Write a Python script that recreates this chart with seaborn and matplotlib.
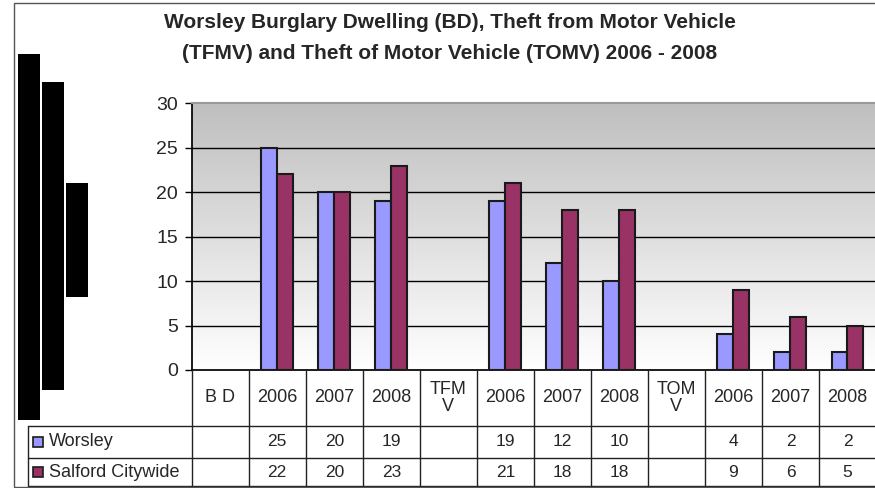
import numpy as np
import pandas as pd
import matplotlib
matplotlib.use("Agg")
import matplotlib.pyplot as plt
import seaborn as sns
from matplotlib.patches import Rectangle
from matplotlib.lines import Line2D
from matplotlib.colors import LinearSegmentedColormap

# --- data ---
categories = ["BD", "BD 2006", "BD 2007", "BD 2008",
              "TFMV", "TFMV 2006", "TFMV 2007", "TFMV 2008",
              "TOMV", "TOMV 2006", "TOMV 2007", "TOMV 2008"]
col_labels = ["B D", "2006", "2007", "2008", "TFM\nV", "2006", "2007", "2008",
              "TOM\nV", "2006", "2007", "2008"]
series = ["Worsley", "Salford Citywide"]
worsley = [np.nan, 25, 20, 19, np.nan, 19, 12, 10, np.nan, 4, 2, 2]
salford = [np.nan, 22, 20, 23, np.nan, 21, 18, 18, np.nan, 9, 6, 5]
colors = ["#9999FF", "#993366"]
y_ticks = [0, 5, 10, 15, 20, 25, 30]
title = ("Worsley Burglary Dwelling (BD), Theft from Motor Vehicle\n"
         "(TFMV) and Theft of Motor Vehicle (TOMV) 2006 - 2008")

df = pd.DataFrame({
    "cat": categories * 2,
    "series": [series[0]] * len(categories) + [series[1]] * len(categories),
    "value": worsley + salford,
})

sns.set_theme(style="white")
plt.rcParams["font.family"] = ["Liberation Sans", "DejaVu Sans"]

W, H = 875, 488
fig = plt.figure(figsize=(W / 100, H / 100), dpi=100)


def fx(px):
    return px / W


def fy(py):
    return 1 - py / H


# main plot area (pixel box 192..876 x 103..370)
ax = fig.add_axes([fx(191.7), fy(370), (876 - 191.7) / W, (370 - 103.3) / H])
sns.barplot(data=df, x="cat", y="value", hue="series", order=categories,
            hue_order=series, palette=colors, saturation=1, width=0.56, gap=0,
            edgecolor="#1a1a1a", linewidth=1.5, legend=False, ax=ax, zorder=3)

# grey to white gradient of the plot area
cmap = LinearSegmentedColormap.from_list("bg", ["#ffffff", "#bfbfbf"])
grad = np.linspace(1, 0, 256).reshape(-1, 1)
ax.imshow(grad, cmap=cmap, extent=(-0.5, len(categories) - 0.5, 0, 30),
          aspect="auto", zorder=0, vmin=0, vmax=1)
ax.set_xlim(-0.5, len(categories) - 0.5)
ax.set_ylim(0, 30)

ax.set_yticks(y_ticks)
ax.set_yticklabels([str(t) for t in y_ticks])
ax.set_xticks([])
ax.set_xlabel("")
ax.set_ylabel("")
for t in y_ticks[1:-1]:
    ax.axhline(t, color="black", lw=1, zorder=1)
ax.tick_params(axis="y", direction="out", length=5, width=1, color="black",
               labelsize=14, pad=5, left=True)
ax.spines["left"].set_color("black")
ax.spines["bottom"].set_color("black")
ax.spines["top"].set_color("#999999")
ax.spines["top"].set_linewidth(1.5)
ax.spines["right"].set_visible(False)

# data table under the chart
ax_t = fig.add_axes([fx(191.7), 0, (876 - 191.7) / W, (H - 370) / H])
ax_t.set_xlim(-0.5, len(categories) - 0.5)
ax_t.set_ylim(0, H - 370)
ax_t.axis("off")

colw = (876 - 191.7) / len(categories)
left_x = -0.5 - (191.7 - 27.7) / colw
y_head = H - 425.7
y_row1 = H - 458.3
y_row2 = H - 486
y_top = H - 370
lc = "#222222"

for i in range(len(categories) + 1):
    ax_t.add_line(Line2D([i - 0.5, i - 0.5], [y_top, y_row2], color=lc, lw=1,
                         clip_on=False))
ax_t.add_line(Line2D([left_x, left_x], [y_head, y_row2], color=lc, lw=1, clip_on=False))
for yy in (y_head, y_row1, y_row2):
    ax_t.add_line(Line2D([left_x, len(categories) - 0.5], [yy, yy], color=lc, lw=1,
                         clip_on=False))

for i, lab in enumerate(col_labels):
    ax_t.text(i, (y_top + y_head) / 2, lab, ha="center", va="center",
              fontsize=13, linespacing=1.0)

rows = [worsley, salford]
row_y = [(y_head + y_row1) / 2, (y_row1 + y_row2) / 2]
for vals, ry, name, c in zip(rows, row_y, series, colors):
    for i, v in enumerate(vals):
        if not np.isnan(v):
            ax_t.text(i, ry, f"{int(v)}", ha="center", va="center", fontsize=12.5)
    ax_t.plot([left_x + 10 / colw], [ry], marker="s", markersize=7,
              markerfacecolor=c, markeredgecolor="#1a1a1a", markeredgewidth=1.2,
              clip_on=False)
    ax_t.text(left_x + 21 / colw, ry, name, ha="left", va="center", fontsize=13)

# title
fig.text(fx(450), fy(38), title, ha="center", va="center", fontsize=15,
         fontweight="bold", linespacing=1.8)

# outer chart border and the black blocks on the left
fig.add_artist(Rectangle((fx(13.5), fy(487)), 1, (487 - 3) / H, transform=fig.transFigure,
                         fill=False, edgecolor="#555555", lw=1))
for x0, x1, y0, y1 in [(18, 40, 54, 420), (42, 64, 82, 390), (66, 88, 183, 297)]:
    fig.add_artist(Rectangle((fx(x0), fy(y1)), (x1 - x0) / W, (y1 - y0) / H,
                             transform=fig.transFigure, color="black", lw=0))

fig.savefig("out.png", dpi=100)
